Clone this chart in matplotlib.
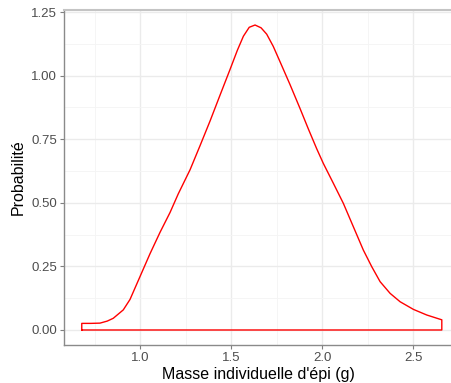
import matplotlib.pyplot as plt
from matplotlib.ticker import MultipleLocator

plt.rcParams['font.family'] = ['Liberation Sans', 'DejaVu Sans']

# Densité
masse = [0.68, 0.73, 0.78, 0.82, 0.853, 0.908, 0.945, 1.0, 1.055, 1.11,
         1.165, 1.21, 1.275, 1.33, 1.385, 1.44, 1.495, 1.535, 1.568, 1.60,
         1.632, 1.665, 1.696, 1.732, 1.769, 1.824, 1.879, 1.925, 1.971, 2.007,
         2.062, 2.117, 2.172, 2.227, 2.273, 2.319, 2.374, 2.429, 2.502, 2.575,
         2.658]
densite = [0.026, 0.026, 0.027, 0.035, 0.046, 0.079, 0.12, 0.21, 0.3, 0.384,
           0.462, 0.535, 0.63, 0.725, 0.822, 0.924, 1.025, 1.10, 1.155, 1.19,
           1.199, 1.188, 1.163, 1.115, 1.055, 0.965, 0.871, 0.79, 0.712, 0.655,
           0.577, 0.498, 0.406, 0.314, 0.249, 0.19, 0.144, 0.111, 0.081, 0.059,
           0.04]

x_ticks = [1.0, 1.5, 2.0, 2.5]
y_ticks = [0.0, 0.25, 0.5, 0.75, 1.0, 1.25]

fig = plt.figure(figsize=(4.52, 3.83), dpi=100)
ax = fig.add_axes([64 / 452, 1 - 345 / 383, 388 / 452, 335 / 383])

# contour fermé (comme geom_density sans remplissage)
xs = [masse[0]] + masse + [masse[-1], masse[0]]
ys = [0.0] + densite + [0.0, 0.0]
ax.plot(xs, ys, color='#FF0000', linewidth=1.0, solid_joinstyle='round', zorder=3)

ax.set_xlim(0.5824, 2.714)
ax.set_ylim(-0.059, 1.258)
ax.set_xticks(x_ticks)
ax.set_xticklabels([f'{v:.1f}' for v in x_ticks])
ax.set_yticks(y_ticks)
ax.set_yticklabels([f'{v:.2f}' for v in y_ticks])
ax.xaxis.set_minor_locator(MultipleLocator(0.25))
ax.yaxis.set_minor_locator(MultipleLocator(0.125))

ax.grid(which='major', color='#EBEBEB', linewidth=1.0)
ax.grid(which='minor', color='#F4F4F4', linewidth=0.6)
ax.set_axisbelow(True)
ax.tick_params(which='minor', length=0)
ax.tick_params(which='major', length=3, color='#7F7F7F', labelsize=9.5,
               labelcolor='#4D4D4D', pad=2)

for side in ['left', 'bottom']:
    ax.spines[side].set_color('#8A8A8A')
    ax.spines[side].set_linewidth(1.0)
ax.spines['top'].set_color('#C4C4C4')
ax.spines['top'].set_linewidth(1.5)
ax.spines['right'].set_visible(False)

ax.set_xlabel("Masse individuelle d'épi (g)", fontsize=11.5, labelpad=2)
ax.set_ylabel('Probabilité', fontsize=11.5, labelpad=4)

fig.savefig('out.png', dpi=100)
